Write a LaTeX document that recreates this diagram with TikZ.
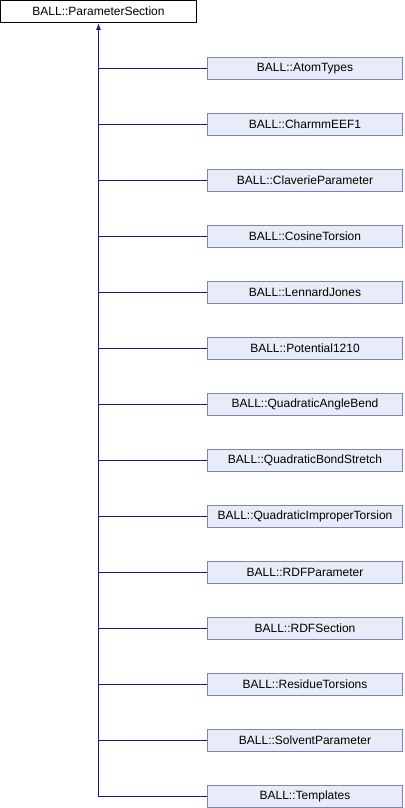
\documentclass[tikz,border=0pt]{standalone}
\usepackage{fontspec}
\setmainfont{Liberation Sans}
\usetikzlibrary{arrows.meta}
\definecolor{edgeblue}{HTML}{191970}
\definecolor{boxfill}{HTML}{E8ECF8}
\definecolor{boxline}{HTML}{7486BC}
\tikzset{
  base/.style={draw=black, fill=white, text=black, line width=1bp, minimum width=196bp,
    minimum height=22bp, inner sep=0pt, font=\fontsize{12bp}{14bp}\selectfont},
  derived/.style={base, draw=boxline, fill=boxfill, minimum width=195bp},
  link/.style={draw=edgeblue, line width=1bp},
}
\begin{document}
\begin{tikzpicture}[x=1bp,y=1bp]
    \useasboundingbox (0,0) rectangle (404,-808);
    \node[base] (ps) at (98.5,-11.5) {BALL::ParameterSection};
    \foreach \name [count=\i from 0] in {AtomTypes,CharmmEEF1,ClaverieParameter,%
        CosineTorsion,LennardJones,Potential1210,QuadraticAngleBend,%
        QuadraticBondStretch,QuadraticImproperTorsion,RDFParameter,%
        RDFSection,ResidueTorsions,SolventParameter,Templates}{% one box per subclass
      \node[derived] (c\i) at (305,{-68.5-56*\i}) {BALL::\name};}
    \coordinate (trunk) at (c13.west -| ps.south);% foot of the trunk
    \draw[link,-{Latex[length=7bp,width=5bp]}] (trunk) -- (ps.south);
    \foreach \i in {0,...,13}{% branch from the trunk to each box
      \draw[link] (c\i.west -| ps.south) -- (c\i.west);}
\end{tikzpicture}
\end{document}
